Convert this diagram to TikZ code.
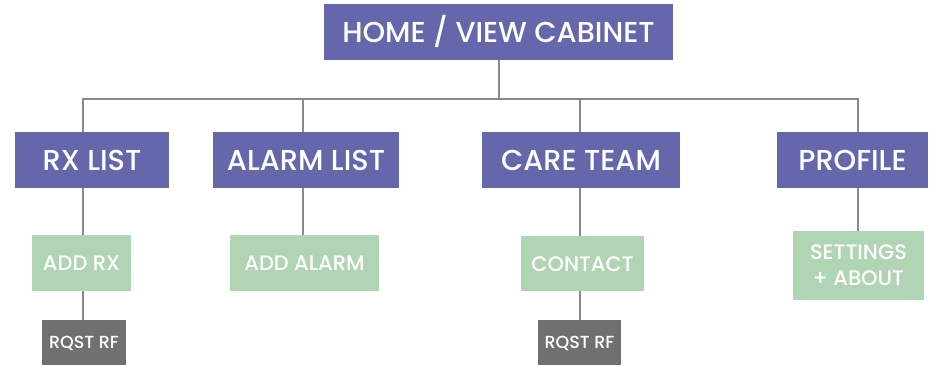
\documentclass[tikz,border=0pt]{standalone}
\usepackage{fontspec}
\setmainfont{Poppins}[UprightFont=* Medium]
\definecolor{peri}{HTML}{6667AA}
\definecolor{mint}{HTML}{B1D4B5}
\definecolor{slate}{HTML}{707070}
\definecolor{wire}{HTML}{8A8A8A}
\begin{document}
\begin{tikzpicture}[x=1pt,y=-1pt,
  box/.style={inner sep=0pt, outer sep=0pt, text=white, align=center, anchor=north west},
  topbox/.style={box, fill=peri, font=\fontsize{28.8}{30}\selectfont, text height=20pt, text depth=0pt},
  subbox/.style={box, fill=mint, font=\fontsize{21}{27}\selectfont},
  leafbox/.style={box, fill=slate, font=\fontsize{17.5}{20}\selectfont, text height=12pt, text depth=0pt},
  link/.style={draw=wire, line width=1.4pt}]
\useasboundingbox (0,0) rectangle (930,365);
% main level
\node[topbox, minimum width=349pt, minimum height=56pt] (home) at (324,4) {HOME / VIEW CABINET};
\node[topbox, minimum width=154pt, minimum height=56pt] (rx) at (15,132) {RX LIST};
\node[topbox, minimum width=186pt, minimum height=56pt] (alarm) at (213,132) {ALARM LIST};
\node[topbox, minimum width=198pt, minimum height=56pt] (care) at (482,132) {CARE TEAM};
\node[topbox, minimum width=151pt, minimum height=56pt] (profile) at (777,132) {PROFILE};
% second level
\node[subbox, minimum width=99pt, minimum height=56pt, text height=15pt, text depth=0pt] (addrx) at (32,235) {ADD RX};
\node[subbox, minimum width=149pt, minimum height=56pt, text height=15pt, text depth=0pt] (addalarm) at (230,235) {ADD ALARM};
\node[subbox, minimum width=123pt, minimum height=55pt, text height=15pt, text depth=0pt] (contact) at (521,236) {CONTACT};
\node[subbox, minimum width=131pt, minimum height=69pt] (settings) at (793,231) {SETTINGS\\[-1pt]+ ABOUT};
% third level
\node[leafbox, minimum width=84pt, minimum height=45pt] (rqst1) at (42,320) {RQST RF};
\node[leafbox, minimum width=83pt, minimum height=45pt] (rqst2) at (538,320) {RQST RF};
% wire positions
\coordinate (hub) at (499,99);
\coordinate (x1) at (83,99);
\coordinate (x2) at (303,99);
\coordinate (x3) at (580,99);
\coordinate (x4) at (858,99);
% connectors
\draw[link] (hub |- home.south) -- (hub);
\draw[link] (x1 |- rx.north) -- (x1) -- (x4) -- (x4 |- profile.north);
\draw[link] (x2) -- (x2 |- alarm.north);
\draw[link] (x3) -- (x3 |- care.north);
\draw[link] (x1 |- rx.south) -- (x1 |- addrx.north);
\draw[link] (x1 |- addrx.south) -- (x1 |- rqst1.north);
\draw[link] (x2 |- alarm.south) -- (x2 |- addalarm.north);
\draw[link] (x3 |- care.south) -- (x3 |- contact.north);
\draw[link] (x3 |- contact.south) -- (x3 |- rqst2.north);
\draw[link] (x4 |- profile.south) -- (x4 |- settings.north);
\end{tikzpicture}
\end{document}
